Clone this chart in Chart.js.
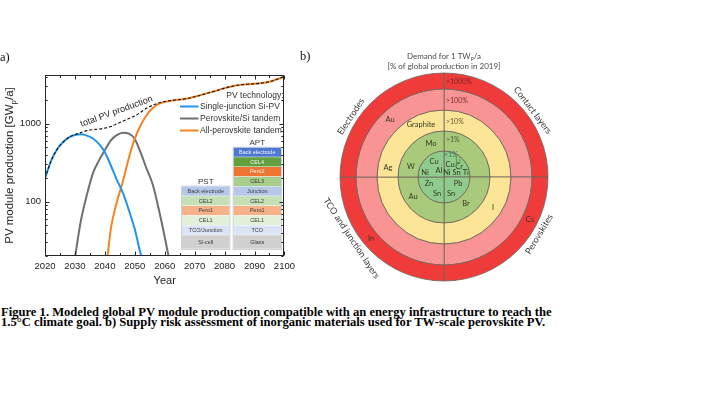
<!DOCTYPE html>
<html><head><meta charset="utf-8">
<script src="https://cdn.jsdelivr.net/npm/chart.js@4.4.1/dist/chart.umd.min.js"></script>
<style>
html,body{margin:0;padding:0;background:#fff}
body{width:707px;height:398px;overflow:hidden;position:relative}
#ca{position:absolute;left:0;top:0}
#cb{position:absolute;left:304px;top:40px}
.pl{position:absolute;font-family:"Liberation Serif","Times New Roman",serif;font-size:12.5px;color:#111;line-height:1}
#cap{position:absolute;left:1px;top:306.5px;font-family:"Liberation Serif","Times New Roman",serif;font-weight:bold;font-size:12.6px;line-height:10px;white-space:nowrap;color:#000}
</style></head>
<body>
<canvas id="ca" width="300" height="300"></canvas>
<canvas id="cb" width="280" height="260"></canvas>
<div class="pl" style="left:0px;top:51px">a)</div>
<div class="pl" style="left:300px;top:50px">b)</div>
<div id="cap">Figure 1. Modeled global PV module production compatible with an energy infrastructure to reach the<br>1.5°C climate goal. b) Supply risk assessment of inorganic materials used for TW-scale perovskite PV.</div>
<script>
// ---------- panel a) data ----------
const siYears  = [2020,2022,2024,2026,2028,2030,2032,2034,2036,2038,2040,2042,2044,2046,2048,2050,2052,2053];
const siVals   = [199,330,465,575,665,715,730,700,643,550,430,290,190,130,78,44,21,16];
const pstYears = [2030,2032,2034,2036,2038,2040,2042,2044,2046,2048,2050,2052,2054,2056,2058,2060,2061.5];
const pstVals  = [19,57,122,230,335,455,610,710,765,745,635,420,260,165,80,35,18];
const aptYears = [2040.8,2042,2044,2046,2048,2050,2052,2054,2056,2058,2060,2062,2065,2068,2071,2074,2077,2080,2083,2086,2089,2092,2095,2098,2100];
const aptVals  = [18,45,98,180,360,640,960,1290,1580,1790,1900,1960,2030,2110,2260,2440,2620,2850,3040,3160,3220,3300,3450,3760,4020];
const totYears = [2020,2022,2024,2026,2028,2030,2032,2034,2036,2038,2040,2042,2044,2046,2048,2050,2052,2054,2056,2058,2060,2062,2065,2068,2071,2074,2077,2080,2083,2086,2089,2092,2095,2098,2100];
const totVals  = [199,330,465,575,665,722,765,812,835,850,875,915,990,1070,1160,1250,1400,1580,1720,1840,1920,1975,2030,2110,2260,2440,2620,2850,3040,3160,3220,3300,3450,3760,4020];
const seriesNames = ['Single-junction Si-PV','Perovskite/Si tandem','All-perovskite tandem','total PV production'];
const legendTitle = 'PV technology:';
const xMin = 2020, xMax = 2100, yMin = 20, yMax = 4200;
const yLabeled = [100,1000];
const aptLayers = ['Back electrode','CEL4','Pero2','CEL3','Junction','CEL2','Pero1','CEL1','TCO','Glass'];
const pstLayers = ['Back electrode','CEL2','Pero1','CEL1','TCO/Junction','Si-cell'];

// ---------- panel b) data ----------
const ringLevels = ['>1000%','>100%','>10%','>1%','<1%'];
const quadrants = ['Contact layers','Perovskites','TCO and junction layers','Electrodes'];
const quadrantShare = [1,1,1,1];
const elemNames = ['Au','Graphite','Mo','Ag','W','Cu','Ni','Al','Cu','Li','Cr','Ni Sn Ti','Zn','Pb','Sn','Sn','Au','Br','I','Cs','In'];

// ---------- styles ----------
const SANS = "'Liberation Sans', Arial, sans-serif";
const LATO = "Lato, 'Open Sans', sans-serif";
const layerColor = {'Back electrode':'#4f78d0','CEL4':'#62a03e','Pero2':'#ee7431','CEL3':'#a7cf8b','Junction':'#b6c8e8','CEL2':'#c6e0b5','Pero1':'#f6b189','CEL1':'#e2efd9','TCO':'#dae3f3','Glass':'#d0d0d0','TCO/Junction':'#dae3f3','Si-cell':'#d0d0d0'};
const darkLayers = ['Back electrode','CEL4','Pero2'];
const ringColors = ['#f03b3b','#f89494','#fde598','#a9c97b','#8fcb8d'];
const ringWeights = [16,21,21,20,26];
const ringTextColors = ['#7a2424','#7a2a2a','#6b5535','#4e5c36','#3d6a58'];
const ringTextPos = [[2,-95],[2,-76],[2,-55],[2,-37],[0,-22]];
const elemPos = [[-54,-57],[-23,-52],[-13,-33],[-56,-9],[-33,-10],[-10,-15],[-19,-4],[-5,-6],[6,-12],[14,-16],[15,-10],[12,-4],[-15,7],[14,7],[-7,17],[7,17],[-31,20],[22,27],[49,31],[86,43],[-73,62]];
const quadAngles = [-37,31,146.5,-147];

const pts = (xs, ys) => xs.map((x, i) => ({x, y: ys[i]}));

function drawStack(ctx, title, names, x0, y0, w, rowH, lastH){
  ctx.save();
  ctx.textAlign = 'center'; ctx.textBaseline = 'middle';
  ctx.fillStyle = '#333'; ctx.font = '8px ' + SANS;
  ctx.fillText(title, x0 + w/2, y0 - 5);
  let yy = y0;
  names.forEach((n, i) => {
    const h = i === names.length - 1 ? lastH : rowH;
    let c = layerColor[n];
    if (title === 'PST' && n === 'Back electrode') c = '#b6c8e8';
    ctx.fillStyle = c; ctx.fillRect(x0, yy, w, h);
    ctx.fillStyle = '#fff'; ctx.fillRect(x0, yy + h - 0.5, w, 0.8);
    const dark = darkLayers.includes(n) && !(title === 'PST');
    ctx.fillStyle = dark ? '#f4f4f4' : '#3a3a3a';
    ctx.font = '5.5px ' + SANS;
    ctx.fillText(n, x0 + w/2, yy + h/2);
    yy += h;
  });
  ctx.strokeStyle = '#c3c9d3'; ctx.lineWidth = 0.8;
  ctx.strokeRect(x0 - 0.4, y0 - 0.4, w + 0.8, yy - y0 + 0.8);
  ctx.restore();
}

const framePlugin = {
  id: 'frame',
  afterDraw(chart){
    const {ctx, chartArea: a, scales: {x, y}} = chart;
    ctx.save();
    const L = Math.round(a.left) + 0.5, R = Math.round(a.right) - 0.5, T = Math.round(a.top) + 0.5, B = Math.round(a.bottom) - 0.5;
    drawStack(ctx, 'APT', aptLayers, 233.5, 147.5, 47.5, 9.75, 14);
    drawStack(ctx, 'PST', pstLayers, 182, 147.5 + 4*9.75, 47.5, 9.75, 14);
    ctx.strokeStyle = '#262626'; ctx.lineWidth = 1;
    ctx.strokeRect(L, T, R - L, B - T);
    ctx.beginPath();
    for (let yr = xMin; yr <= xMax; yr += 5) {
      const px = Math.round(x.getPixelForValue(yr)) + 0.5;
      const len = yr % 10 === 0 ? 4 : 2.5;
      ctx.moveTo(px, B); ctx.lineTo(px, B - len);
      ctx.moveTo(px, T); ctx.lineTo(px, T + len);
    }
    y.ticks.forEach(t => {
      const v = t.value;
      const p = Math.pow(10, Math.floor(Math.log10(v) + 1e-9));
      const s = v / p;
      if (Math.abs(s - Math.round(s)) > 1e-6) return;
      const len = Math.round(s) === 1 ? 4 : 2.2;
      const py = Math.round(y.getPixelForValue(v)) + 0.5;
      ctx.moveTo(L, py); ctx.lineTo(L + len, py);
      ctx.moveTo(R, py); ctx.lineTo(R - len, py);
    });
    ctx.stroke();

    ctx.save();
    ctx.translate(9, (a.top + a.bottom) / 2);
    ctx.rotate(-Math.PI / 2);
    ctx.fillStyle = '#222';
    const f1 = '11.5px ' + SANS, f2 = '8px ' + SANS;
    const s1 = 'PV module production [GW', s2 = 'p', s3 = '/a]';
    ctx.font = f1; const w1 = ctx.measureText(s1).width, w3 = ctx.measureText(s3).width;
    ctx.font = f2; const w2 = ctx.measureText(s2).width;
    let sx = -(w1 + w2 + w3) / 2;
    ctx.textBaseline = 'alphabetic'; ctx.textAlign = 'left';
    ctx.font = f1; ctx.fillText(s1, sx, 4); sx += w1;
    ctx.font = f2; ctx.fillText(s2, sx, 6.5); sx += w2;
    ctx.font = f1; ctx.fillText(s3, sx, 4);
    ctx.restore();

    ctx.save();
    ctx.translate(116.5, 111.5);
    ctx.rotate(-20 * Math.PI / 180);
    ctx.font = '9px ' + SANS; ctx.fillStyle = '#222';
    ctx.textAlign = 'center'; ctx.textBaseline = 'middle';
    ctx.fillText(seriesNames[3], 0, 0);
    ctx.restore();

    ctx.font = '8.5px ' + SANS; ctx.fillStyle = '#333';
    ctx.textAlign = 'right'; ctx.textBaseline = 'middle';
    ctx.fillText(legendTitle, 283.5, 96);
    ctx.textAlign = 'left';
    [0, 1, 2].forEach((i, k) => {
      const ds = chart.data.datasets[i];
      const ly = 106.5 + k * 12;
      ctx.strokeStyle = ds.borderColor; ctx.lineWidth = 2;
      ctx.beginPath(); ctx.moveTo(180, ly); ctx.lineTo(198.5, ly); ctx.stroke();
      ctx.fillStyle = '#333';
      ctx.fillText(ds.label, 200, ly + 0.5);
    });
    ctx.restore();
  }
};

new Chart(document.getElementById('ca'), {
  type: 'line',
  data: {
    datasets: [
      {label: seriesNames[0], data: pts(siYears, siVals), borderColor: '#2193f0', borderWidth: 2, order: 1},
      {label: seriesNames[1], data: pts(pstYears, pstVals), borderColor: '#6f6f6f', borderWidth: 2, order: 3},
      {label: seriesNames[2], data: pts(aptYears, aptVals), borderColor: '#f6831f', borderWidth: 2, order: 2},
      {label: seriesNames[3], data: pts(totYears, totVals), borderColor: '#111', borderWidth: 1.1, borderDash: [3, 2], order: 0}
    ]
  },
  options: {
    responsive: false, animation: false, events: [],
    layout: {padding: {top: 75, right: 13, left: 0, bottom: 0}},
    elements: {point: {radius: 0}, line: {cubicInterpolationMode: 'monotone', fill: false}},
    plugins: {legend: {display: false}, tooltip: {enabled: false}},
    scales: {
      x: {
        type: 'linear', min: xMin, max: xMax,
        grid: {display: false, drawTicks: false}, border: {display: false},
        ticks: {stepSize: 10, padding: 5, color: '#222', font: {size: 9.5, family: SANS}, maxRotation: 0, autoSkip: false, callback: v => String(v)},
        title: {display: true, text: 'Year', color: '#222', font: {size: 11, family: SANS}, padding: {top: 0, bottom: 12}},
        afterFit: s => { s.height = 44; }
      },
      y: {
        type: 'logarithmic', min: yMin, max: yMax,
        grid: {display: false, drawTicks: false}, border: {display: false},
        ticks: {autoSkip: false, padding: 4, color: '#222', font: {size: 9.5, family: SANS}, callback: v => yLabeled.includes(v) ? String(v) : ''},
        afterFit: s => { s.width = 45; }
      }
    }
  },
  plugins: [framePlugin]
});

const circlePlugin = {
  id: 'circleLabels',
  afterDraw(chart){
    const {ctx} = chart;
    const arc = chart.getDatasetMeta(0).data[0];
    const cx = arc.x, cy = arc.y;
    ctx.save();
    ctx.fillStyle = '#4a4a4a'; ctx.textBaseline = 'middle';
    const f1 = '8px ' + LATO, f2 = '5.5px ' + LATO;
    const a1 = 'Demand for 1 TW', a2 = 'p', a3 = '/a';
    ctx.font = f1; const w1 = ctx.measureText(a1).width, w3 = ctx.measureText(a3).width;
    ctx.font = f2; const w2 = ctx.measureText(a2).width;
    let sx = cx - (w1 + w2 + w3) / 2;
    ctx.textAlign = 'left';
    ctx.font = f1; ctx.fillText(a1, sx, cy - 121); sx += w1;
    ctx.font = f2; ctx.fillText(a2, sx, cy - 118.5); sx += w2;
    ctx.font = f1; ctx.fillText(a3, sx, cy - 121);
    ctx.textAlign = 'center';
    ctx.fillText('[% of global production in 2019]', cx, cy - 110.5);

    ctx.font = '7px ' + LATO; ctx.textAlign = 'left';
    ringLevels.forEach((t, i) => {
      ctx.fillStyle = ringTextColors[i];
      ctx.fillText(t, cx + ringTextPos[i][0], cy + ringTextPos[i][1]);
    });
    ctx.font = '7.5px ' + LATO; ctx.textAlign = 'center';
    elemNames.forEach((t, i) => {
      ctx.fillStyle = t === 'Li' ? '#667a1e' : '#34381f';
      ctx.fillText(t, cx + elemPos[i][0], cy + elemPos[i][1]);
    });
    ctx.font = '9px ' + LATO; ctx.fillStyle = '#3a3a3a';
    quadrants.forEach((t, i) => {
      const th = quadAngles[i] * Math.PI / 180;
      const d = 111;
      ctx.save();
      ctx.translate(cx + d * Math.cos(th), cy + d * Math.sin(th));
      const rot = Math.sin(th) < 0 ? th + Math.PI / 2 : th - Math.PI / 2;
      ctx.rotate(rot);
      ctx.fillText(t, 0, 0);
      ctx.restore();
    });
    ctx.restore();
  }
};

new Chart(document.getElementById('cb'), {
  type: 'doughnut',
  data: {
    labels: quadrants,
    datasets: ringLevels.map((lv, i) => ({
      label: lv, data: quadrantShare, backgroundColor: ringColors[i],
      borderColor: '#6f645c', borderWidth: 0.8, weight: ringWeights[i]
    }))
  },
  options: {
    responsive: false, animation: false, events: [],
    radius: 104, cutout: 0, rotation: 0,
    layout: {padding: {top: 14, bottom: 0, left: 0, right: 0}},
    plugins: {legend: {display: false}, tooltip: {enabled: false}}
  },
  plugins: [circlePlugin]
});
</script>
</body></html>
